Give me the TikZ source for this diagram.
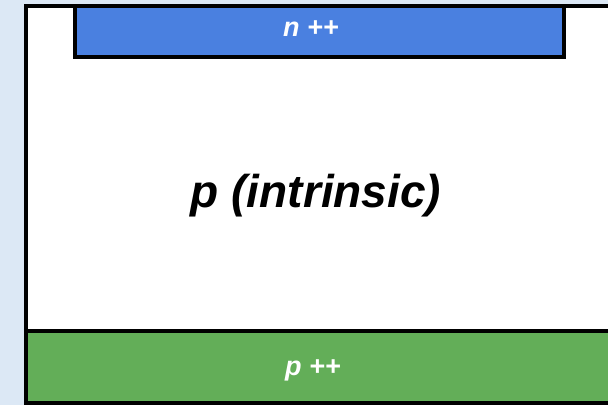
\documentclass[tikz,border=0pt]{standalone}
\usepackage{fontspec}
\setmainfont{Liberation Sans}
\definecolor{bgblue}{RGB}{220,232,245}
\definecolor{nblue}{RGB}{74,128,224}
\definecolor{pgreen}{RGB}{99,174,88}
\begin{document}
\begin{tikzpicture}[x=1bp,y=-1bp,
  layer/.style={draw=black,line width=4bp},
  lbl/.style={font=\bfseries\itshape,inner sep=0pt}]
\useasboundingbox (0,0) rectangle (608,405);
\fill[bgblue] (0,0) rectangle (608,405);
\path[layer,fill=white] (26,6) rectangle (620,403);
\path[layer,fill=pgreen] (26,331) rectangle (620,403);
\path[layer,fill=nblue] (75,6) rectangle (564,57);
\node[lbl,text=white,font=\fontsize{27bp}{30bp}\selectfont\bfseries\itshape] (n) at (311,29) {n ++};
\node[lbl,font=\fontsize{46bp}{50bp}\selectfont\bfseries\itshape] (p) at (316,196) {p (intrinsic)};
\node[lbl,text=white,font=\fontsize{27bp}{30bp}\selectfont\bfseries\itshape] (pp) at (313,370) {p ++};
\end{tikzpicture}
\end{document}
